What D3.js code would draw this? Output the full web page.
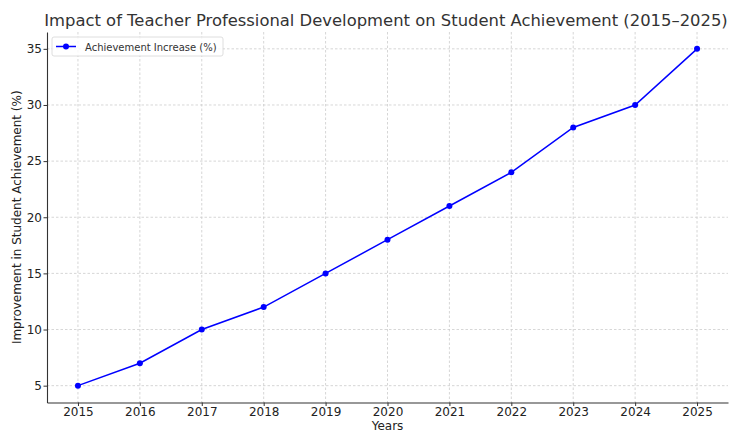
<!DOCTYPE html>
<html lang="en">
<head>
<meta charset="utf-8">
<title>Impact of Teacher Professional Development on Student Achievement</title>
<script src="https://unpkg.com/d3@7/dist/d3.min.js"></script>
<style>
  body { margin: 0; background: #fff; }
  text { font-family: "DejaVu Sans", sans-serif; }
</style>
</head>
<body>
<script>
// data
var years = [2015, 2016, 2017, 2018, 2019, 2020, 2021, 2022, 2023, 2024, 2025];
var increase = [5, 7, 10, 12, 15, 18, 21, 24, 28, 30, 35];
var yTicks = [5, 10, 15, 20, 25, 30, 35];
var seriesName = "Achievement Increase (%)";

var width = 732, height = 432;
var plotLeft = 47, plotRight = 728, plotTop = 32, plotBottom = 402.5;

var svg = d3.select("body").append("svg")
    .attr("width", width)
    .attr("height", height);

var x = d3.scaleLinear().domain([2014.5, 2025.5]).range([plotLeft, plotRight]);
var y = d3.scaleLinear().domain([3.5, 36.5]).range([plotBottom, plotTop]);

// grid
var grid = svg.append("g").attr("stroke", "#cccccc").attr("stroke-width", 0.8)
    .attr("stroke-dasharray", "2.5,2");
grid.selectAll("line.vx").data(years).enter().append("line")
    .attr("x1", d => x(d)).attr("x2", d => x(d))
    .attr("y1", plotTop).attr("y2", plotBottom);
grid.selectAll("line.hy").data(yTicks).enter().append("line")
    .attr("x1", plotLeft).attr("x2", plotRight)
    .attr("y1", d => y(d)).attr("y2", d => y(d));

// axes
var xAxis = d3.axisBottom(x).tickValues(years).tickFormat(d3.format("d"))
    .tickSizeInner(3.5).tickSizeOuter(0).tickPadding(1.5);
var yAxis = d3.axisLeft(y).tickValues(yTicks)
    .tickSizeInner(3.5).tickSizeOuter(0).tickPadding(1.5);

var gx = svg.append("g").attr("transform", "translate(0," + plotBottom + ")").call(xAxis);
var gy = svg.append("g").attr("transform", "translate(" + plotLeft + ",0)").call(yAxis);
[gx, gy].forEach(function(g) {
  g.select(".domain").attr("stroke", "#333").attr("stroke-width", 1.1);
  g.selectAll(".tick line").attr("stroke", "#333");
  g.selectAll(".tick text").attr("fill", "#222").attr("font-size", "12px")
    .attr("font-family", "DejaVu Sans, sans-serif");
});

// line + markers
var line = d3.line().x((d, i) => x(years[i])).y(d => y(d));
svg.append("path").datum(increase)
    .attr("d", line)
    .attr("fill", "none")
    .attr("stroke", "#0000ff")
    .attr("stroke-width", 1.5);
svg.selectAll("circle.pt").data(increase).enter().append("circle")
    .attr("class", "pt")
    .attr("cx", (d, i) => x(years[i]))
    .attr("cy", d => y(d))
    .attr("r", 3)
    .attr("fill", "#0000ff");

// title & labels
svg.append("text")
    .attr("x", 386).attr("y", 26)
    .attr("text-anchor", "middle")
    .attr("font-size", "16.4px")
    .attr("fill", "#333")
    .text("Impact of Teacher Professional Development on Student Achievement (2015\u20132025)");

svg.append("text")
    .attr("x", (plotLeft + plotRight) / 2).attr("y", 430)
    .attr("text-anchor", "middle")
    .attr("font-size", "12px")
    .attr("fill", "#222")
    .text("Years");

svg.append("text")
    .attr("transform", "translate(21," + ((plotTop + plotBottom) / 2) + ") rotate(-90)")
    .attr("text-anchor", "middle")
    .attr("font-size", "12px")
    .attr("fill", "#222")
    .text("Improvement in Student Achievement (%)");

// legend
var lg = svg.append("g").attr("transform", "translate(52,37)");
lg.append("rect").attr("width", 171).attr("height", 19).attr("rx", 2)
    .attr("fill", "#fff").attr("fill-opacity", 0.8)
    .attr("stroke", "#d5d5d5").attr("stroke-width", 0.8);
lg.append("line").attr("x1", 4).attr("x2", 24).attr("y1", 9.5).attr("y2", 9.5)
    .attr("stroke", "#0000ff").attr("stroke-width", 1.5);
lg.append("circle").attr("cx", 14).attr("cy", 9.5).attr("r", 3).attr("fill", "#0000ff");
lg.append("text").attr("x", 33).attr("y", 13.5)
    .attr("font-size", "10px").attr("fill", "#333")
    .text(seriesName);
</script>
</body>
</html>
